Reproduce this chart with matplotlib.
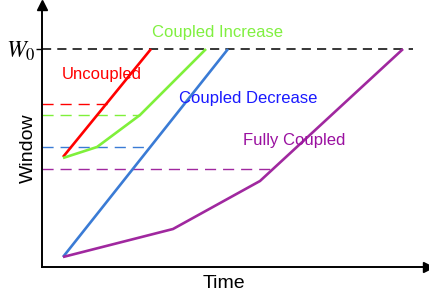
import numpy as np
import matplotlib.pyplot as plt

plt.rcParams['font.family'] = ['Liberation Sans', 'DejaVu Sans']
plt.rcParams['mathtext.fontset'] = 'stix'

# window level W0 and curves (time, window) in arbitrary units
w0 = 218
w0_end = 371

uncoupled_t = [21, 109]
uncoupled_w = [110, 218]

inc_t = [21, 55, 98, 164]
inc_w = [109, 120, 152, 218]

dec_t = [21, 186]
dec_w = [10, 218]

full_t = [21, 131, 218, 361]
full_w = [10, 38, 86, 218]

# dashed reference levels: (level, end time)
ref_levels = [163, 152, 120, 98]
ref_ends = [65, 98, 108, 228]

line_colors = ['#ff0000', '#7ff03a', '#3a7bd5', '#a0289f']
text_colors = ['#ff0000', '#80f040', '#1a1aff', '#9a10a0']
labels = ['Uncoupled', 'Coupled Increase', 'Coupled Decrease', 'Fully Coupled']
label_pos = [(60, 192), (176, 235), (206, 168), (252, 127)]

fig = plt.figure(figsize=(4.29, 2.94), dpi=100)
ax = fig.add_axes([42 / 429, 27 / 294, 386 / 429, 262 / 294])
ax.set_xlim(0, 386)
ax.set_ylim(0, 262)

ax.plot([0, w0_end], [w0, w0], color='black', lw=1.1, dashes=(6, 4))
for lev, end, c in zip(ref_levels, ref_ends, line_colors):
    ax.plot([0, end], [lev, lev], color=c, lw=1.0, dashes=(8, 5))

series = [(uncoupled_t, uncoupled_w), (inc_t, inc_w), (dec_t, dec_w), (full_t, full_w)]
for (t, w), c in zip(series, line_colors):
    ax.plot(t, w, color=c, lw=1.9, solid_capstyle='butt')

for lab, (x, y), c in zip(labels, label_pos, text_colors):
    ax.text(x, y, lab, color=c, fontsize=12, ha='center', va='center')

for s in ['top', 'right']:
    ax.spines[s].set_visible(False)
ax.spines['left'].set_linewidth(1.4)
ax.spines['bottom'].set_linewidth(1.4)
ax.plot(1, 0, '>k', ms=7, transform=ax.transAxes, clip_on=False)
ax.plot(0, 1, '^k', ms=7, transform=ax.transAxes, clip_on=False)

ax.set_xticks([])
ax.set_yticks([w0])
ax.set_yticklabels([r'$W_0$'], fontsize=17)
ax.tick_params(axis='y', length=4, width=1, pad=1)

fig.text(28 / 429, 1 - 148 / 294, 'Window', rotation=90, fontsize=14,
         ha='center', va='center')
fig.text(224 / 429, 1 - 283 / 294, 'Time', fontsize=14, ha='center', va='center')

fig.savefig('out.png', dpi=100)
